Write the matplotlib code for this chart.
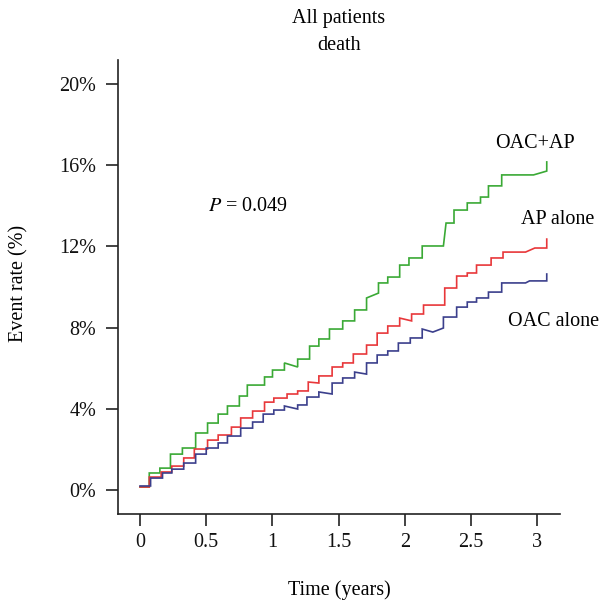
import matplotlib
matplotlib.use("Agg")
import matplotlib.pyplot as plt
from matplotlib.ticker import FuncFormatter

# --- data (vertices of the cumulative event-rate curves, time in years, rate in %) ---
green_t = [0, 0.07, 0.07, 0.15, 0.15, 0.23, 0.23, 0.32, 0.32, 0.42, 0.42, 0.51, 0.51, 0.59, 0.59,
           0.66, 0.66, 0.75, 0.75, 0.81, 0.81, 0.94, 0.94, 1.00, 1.00, 1.09, 1.09, 1.19, 1.19, 1.28,
           1.28, 1.35, 1.35, 1.43, 1.43, 1.53, 1.53, 1.62, 1.62, 1.71, 1.71, 1.80, 1.80, 1.87, 1.87,
           1.96, 1.96, 2.03, 2.03, 2.13, 2.13, 2.29, 2.31, 2.37, 2.37, 2.47, 2.47, 2.57, 2.57, 2.63,
           2.63, 2.73, 2.73, 2.97, 3.07, 3.07]
green_r = [0.15, 0.15, 0.84, 0.84, 1.08, 1.08, 1.77, 1.77, 2.07, 2.07, 2.81, 2.81, 3.30, 3.30, 3.74,
           3.74, 4.14, 4.14, 4.63, 4.63, 5.17, 5.17, 5.57, 5.57, 5.91, 5.91, 6.26, 6.06, 6.45, 6.45,
           7.09, 7.09, 7.44, 7.44, 7.93, 7.93, 8.33, 8.33, 8.87, 8.87, 9.46, 9.70, 10.20, 10.20, 10.49,
           10.49, 11.08, 11.08, 11.43, 11.43, 12.02, 12.02, 13.15, 13.15, 13.79, 13.79, 14.14, 14.14, 14.43,
           14.43, 14.98, 14.98, 15.52, 15.52, 15.71, 16.16]

red_t = [0, 0.07, 0.07, 0.16, 0.16, 0.24, 0.24, 0.33, 0.33, 0.41, 0.41, 0.51, 0.51, 0.59, 0.59,
         0.69, 0.69, 0.76, 0.76, 0.85, 0.85, 0.94, 0.94, 1.01, 1.01, 1.11, 1.11, 1.19, 1.19, 1.27,
         1.27, 1.35, 1.35, 1.45, 1.45, 1.53, 1.53, 1.61, 1.61, 1.71, 1.71, 1.79, 1.79, 1.87, 1.87,
         1.96, 1.96, 2.05, 2.05, 2.14, 2.14, 2.30, 2.30, 2.39, 2.39, 2.47, 2.47, 2.54, 2.54, 2.65,
         2.65, 2.74, 2.74, 2.91, 2.98, 3.07, 3.07]
red_r = [0.15, 0.15, 0.64, 0.64, 0.89, 0.89, 1.18, 1.18, 1.58, 1.58, 2.02, 2.02, 2.46, 2.46, 2.71,
         2.71, 3.10, 3.10, 3.55, 3.55, 3.89, 3.89, 4.33, 4.33, 4.53, 4.53, 4.73, 4.73, 4.88, 4.88,
         5.32, 5.27, 5.62, 5.62, 6.06, 6.06, 6.26, 6.26, 6.70, 6.70, 7.14, 7.14, 7.73, 7.73, 8.08,
         8.08, 8.47, 8.33, 8.67, 8.67, 9.11, 9.11, 9.95, 9.95, 10.54, 10.54, 10.69, 10.69, 11.08,
         11.08, 11.43, 11.43, 11.72, 11.72, 11.92, 11.92, 12.36]

blue_t = [0, 0.08, 0.08, 0.17, 0.17, 0.24, 0.24, 0.33, 0.33, 0.42, 0.42, 0.50, 0.50, 0.59, 0.59,
          0.66, 0.66, 0.76, 0.76, 0.85, 0.85, 0.93, 0.93, 1.01, 1.01, 1.09, 1.09, 1.19, 1.19, 1.26,
          1.26, 1.35, 1.35, 1.45, 1.45, 1.53, 1.53, 1.62, 1.62, 1.71, 1.71, 1.79, 1.79, 1.87, 1.87,
          1.95, 1.95, 2.04, 2.04, 2.13, 2.13, 2.21, 2.29, 2.29, 2.39, 2.39, 2.47, 2.47, 2.54, 2.54,
          2.63, 2.63, 2.73, 2.73, 2.91, 2.94, 3.07, 3.07]
blue_r = [0.20, 0.20, 0.59, 0.59, 0.84, 0.84, 1.03, 1.03, 1.33, 1.33, 1.77, 1.77, 2.07, 2.07, 2.32,
          2.32, 2.66, 2.66, 3.05, 3.05, 3.35, 3.35, 3.74, 3.74, 3.94, 3.94, 4.14, 3.99, 4.19, 4.19,
          4.58, 4.58, 4.83, 4.73, 5.27, 5.27, 5.52, 5.52, 5.81, 5.71, 6.26, 6.26, 6.65, 6.65, 6.85,
          6.85, 7.24, 7.24, 7.49, 7.49, 7.93, 7.78, 7.98, 8.52, 8.52, 9.01, 9.01, 9.26, 9.26, 9.46,
          9.46, 9.75, 9.75, 10.20, 10.20, 10.30, 10.30, 10.64]

x_ticks = [0, 0.5, 1, 1.5, 2, 2.5, 3]
x_tick_labels = ["0", "0.5", "1", "1.5", "2", "2.5", "3"]
y_ticks = [0, 4, 8, 12, 16, 20]

series_labels = ["OAC+AP", "AP alone", "OAC alone"]
title_lines = ["All patients", "death"]
p_text = "0.049"

# --- figure ---
plt.rcParams['font.family'] = ['Liberation Serif', 'DejaVu Serif']
fig = plt.figure(figsize=(6.02, 6.05), dpi=100)
ax = fig.add_axes([118 / 602, 1 - 514 / 605, (560 - 118) / 602, (514 - 60) / 605])

lw = 1.2
ax.plot(green_t, green_r, color="#3aa935", lw=lw, solid_joinstyle="miter")
ax.plot(red_t, red_r, color="#e8373a", lw=lw, solid_joinstyle="miter")
ax.plot(blue_t, blue_r, color="#3b3f8c", lw=lw, solid_joinstyle="miter")

ax.set_xlim(-0.166, 3.17)
ax.set_ylim(-1.18, 21.18)

ax.set_xticks(x_ticks)
ax.set_xticklabels(x_tick_labels)
ax.set_yticks(y_ticks)
ax.yaxis.set_major_formatter(FuncFormatter(lambda v, p: f"{int(v)}%"))

for s in ["top", "right"]:
    ax.spines[s].set_visible(False)
for s in ["left", "bottom"]:
    ax.spines[s].set_linewidth(1.2)
    ax.spines[s].set_color("#222222")

fs = 14.5
ax.tick_params(axis="both", direction="out", length=8.5, width=1.2, color="#222222",
               labelsize=fs, labelcolor="#111111")
ax.tick_params(axis="x", pad=5)
ax.tick_params(axis="y", pad=7)

ax.text(0.51, 13.95, "$P$ = " + p_text, fontsize=fs, ha="left", va="center",
        math_fontfamily="stix")
ax.text(2.98, 17.05, series_labels[0], fontsize=fs, ha="center", va="center", clip_on=False)
ax.text(3.15, 13.3, series_labels[1], fontsize=fs, ha="center", va="center", clip_on=False)
ax.text(3.12, 8.3, series_labels[2], fontsize=fs, ha="center", va="center", clip_on=False)

fig.text(339 / 602, 1 - 19 / 605, title_lines[0], fontsize=fs, ha="center", va="center")
fig.text(339 / 602, 1 - 45 / 605, title_lines[1], fontsize=fs, ha="center", va="center")
fig.text(339 / 602, 1 - 590 / 605, "Time (years)", fontsize=fs, ha="center", va="center")
fig.text(19 / 602, 1 - 283 / 605, "Event rate (%)", fontsize=fs, ha="center", va="center",
         rotation=90)

fig.savefig("out.png", dpi=100)
